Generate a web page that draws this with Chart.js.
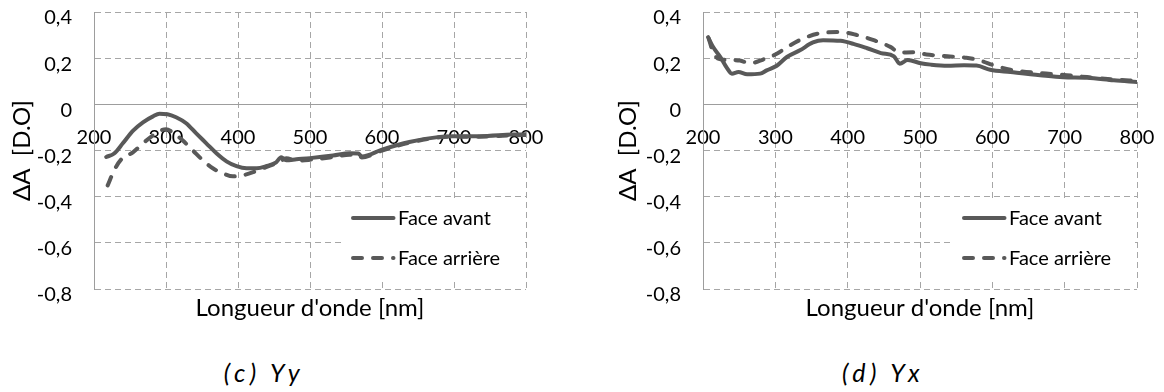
<!DOCTYPE html>
<html><head><meta charset="utf-8">
<script src="https://cdn.jsdelivr.net/npm/chart.js@4.4.1/dist/chart.umd.min.js"></script>
<style>
html,body{margin:0;padding:0;background:#fff;width:1164px;height:392px;overflow:hidden;}
#c1{position:absolute;left:0;top:0;}
#c2{position:absolute;left:600px;top:0;}
.cap{position:absolute;font-family:Lato,sans-serif;font-style:italic;font-size:25px;letter-spacing:4.5px;white-space:pre;transform:translate(-50%,-50%);color:#000;}
</style></head><body>
<canvas id="c1" width="560" height="340"></canvas>
<canvas id="c2" width="564" height="340"></canvas>
<div class="cap" style="left:264px;top:372px">(c) Yy</div>
<div class="cap" style="left:883px;top:372px">(d) Yx</div>
<script>
// ---- data (wavelength in nm, ΔA in D.O) ----
const seriesNames = ['Face avant', 'Face arrière'];
const xTitle = "Longueur d'onde [nm]";
const yTitle = 'ΔA  [D.O]';

// (c) Yy
const ycWaveAvant = [217,228,240,254,268,282,291,302,314,328,342,356,370,384,398,412,426,439,453,460,467,481,500,532,555,567,572,600,638,680,698,735,781,800];
const ycAvant     = [-0.228,-0.213,-0.169,-0.115,-0.078,-0.052,-0.041,-0.043,-0.056,-0.082,-0.126,-0.169,-0.212,-0.247,-0.268,-0.277,-0.277,-0.268,-0.251,-0.229,-0.242,-0.238,-0.233,-0.222,-0.212,-0.213,-0.226,-0.196,-0.163,-0.141,-0.138,-0.138,-0.131,-0.130];
const ycWaveArr   = [219,228,238,254,268,282,293,300,309,323,337,351,365,379,393,407,421,439,457,467,481,500,532,555,567,572,600,638,680,698,735,781,800];
const ycArr       = [-0.351,-0.286,-0.238,-0.208,-0.169,-0.134,-0.113,-0.108,-0.121,-0.156,-0.199,-0.242,-0.277,-0.299,-0.312,-0.307,-0.294,-0.272,-0.251,-0.234,-0.244,-0.240,-0.228,-0.218,-0.219,-0.230,-0.200,-0.166,-0.143,-0.140,-0.140,-0.134,-0.133];

// (d) Yx
const ydWaveAvant = [207,214,224,233,240,249,261,279,288,302,316,334,352,366,390,408,427,446,464,472,483,501,515,538,561,578,597,625,666,698,731,768,800];
const ydAvant     = [0.291,0.248,0.205,0.158,0.133,0.140,0.130,0.133,0.147,0.167,0.205,0.234,0.268,0.278,0.275,0.262,0.243,0.222,0.208,0.176,0.192,0.178,0.172,0.167,0.169,0.168,0.150,0.140,0.126,0.117,0.115,0.104,0.097];
const ydWaveArr   = [208,214,223,237,251,265,283,302,320,343,366,390,413,436,459,472,490,509,538,564,583,602,625,666,703,731,768,800];
const ydArr       = [0.285,0.225,0.196,0.192,0.190,0.178,0.194,0.219,0.255,0.291,0.310,0.313,0.300,0.278,0.249,0.224,0.226,0.216,0.208,0.202,0.190,0.169,0.150,0.135,0.126,0.118,0.108,0.101];

// axis ranges / ticks
const xMin = 200, xMax = 800, xStep = 100;
const yMin = -0.8, yMax = 0.4, yStep = 0.2;

// ---- styling ----
const FONT = 'Lato';
const TICK_SIZE = 20;
const TITLE_SIZE = 24;
const LEG_SIZE = 20;
const LINE = '#595959';
const GRID = '#a6a6a6';
const AXIS = '#9d9d9d';
const NONE = 'rgba(0,0,0,0)';

function pts(xs, ys) { return xs.map((x, i) => ({x: x, y: ys[i]})); }
function fmt(v) { const r = Math.round(v * 10) / 10; return (r === 0 ? '0' : String(r)).replace('.', ','); }

const boxLegend = {
  id: 'boxLegend',
  afterDraw(chart) {
    const {ctx, chartArea: a} = chart;
    const x0 = a.right - 183, y0 = 200, w = 181, h = 79;
    ctx.save();
    ctx.fillStyle = '#fff';
    ctx.fillRect(x0, y0, w, h);
    chart.data.datasets.forEach((ds, i) => {
      const y = 218 + i * 40;
      ctx.strokeStyle = ds.borderColor;
      ctx.lineWidth = ds.borderWidth;
      ctx.lineCap = 'round';
      ctx.setLineDash(ds.borderDash || []);
      ctx.beginPath(); ctx.moveTo(x0 + 10, y); ctx.lineTo(x0 + 50.5, y); ctx.stroke();
      ctx.setLineDash([]);
      ctx.fillStyle = '#000';
      ctx.font = LEG_SIZE + 'px ' + FONT;
      ctx.textBaseline = 'middle';
      ctx.textAlign = 'left';
      ctx.fillText(ds.label, x0 + 55, y + 1);
    });
    ctx.restore();
  }
};

function makeChart(id, cfg) {
  const tfont = {family: FONT, size: TICK_SIZE};
  const hfont = {family: FONT, size: TITLE_SIZE};
  const common = {borderColor: LINE, borderWidth: 4, pointRadius: 0, cubicInterpolationMode: 'monotone',
                  borderCapStyle: 'round', borderJoinStyle: 'round', fill: false};
  return new Chart(document.getElementById(id), {
    type: 'line',
    data: {datasets: [
      Object.assign({label: seriesNames[0], data: pts(cfg.wa, cfg.va)}, common),
      Object.assign({label: seriesNames[1], data: pts(cfg.wb, cfg.vb), borderDash: [9, 11]}, common)
    ]},
    options: {
      responsive: false, animation: false, events: [],
      layout: {padding: {left: cfg.padLeft, top: 12, right: cfg.padRight, bottom: 0}},
      plugins: {legend: {display: false}, tooltip: {enabled: false}},
      scales: {
        x: {type: 'linear', position: 'bottom', min: xMin, max: xMax,
            ticks: {display: false, stepSize: xStep},
            grid: {color: GRID, lineWidth: 1, drawTicks: false},
            border: {display: false, dash: [6, 4]},
            title: {display: true, text: xTitle, font: hfont, color: '#000', padding: {top: 0, bottom: 17}},
            afterFit(s) { s.height = 51; }},
        x2: {type: 'linear', position: {y: 0}, min: xMin, max: xMax,
             ticks: {stepSize: xStep, padding: 0, font: tfont, color: '#000', maxRotation: 0, autoSkip: false},
             grid: {display: true, drawOnChartArea: false, drawTicks: true, tickLength: 21, color: NONE, tickColor: NONE},
             border: {display: true, color: AXIS, width: 1}},
        y: {type: 'linear', min: yMin, max: yMax,
            ticks: {stepSize: yStep, padding: 0, labelOffset: 6, font: tfont, color: '#000', callback: fmt},
            grid: {color: GRID, lineWidth: 1, drawTicks: true, tickLength: 22, tickColor: NONE},
            border: {display: true, color: AXIS, width: 1, dash: [6, 4]},
            title: {display: true, text: yTitle, font: hfont, color: '#000', padding: {top: 8, bottom: 0}},
            afterFit(s) { s.width = cfg.yWidth; }}
      }
    },
    plugins: [boxLegend]
  });
}

function build() {
  makeChart('c1', {wa: ycWaveAvant, va: ycAvant, wb: ycWaveArr, vb: ycArr, padLeft: 0, padRight: 34, yWidth: 94});
  makeChart('c2', {wa: ydWaveAvant, va: ydAvant, wb: ydWaveArr, vb: ydArr, padLeft: 6, padRight: 27, yWidth: 97});
}
const fl = document.fonts ? Promise.all([document.fonts.load('20px Lato'), document.fonts.load('italic 25px Lato')]) : Promise.resolve();
fl.then(build, build);
</script>
</body></html>
